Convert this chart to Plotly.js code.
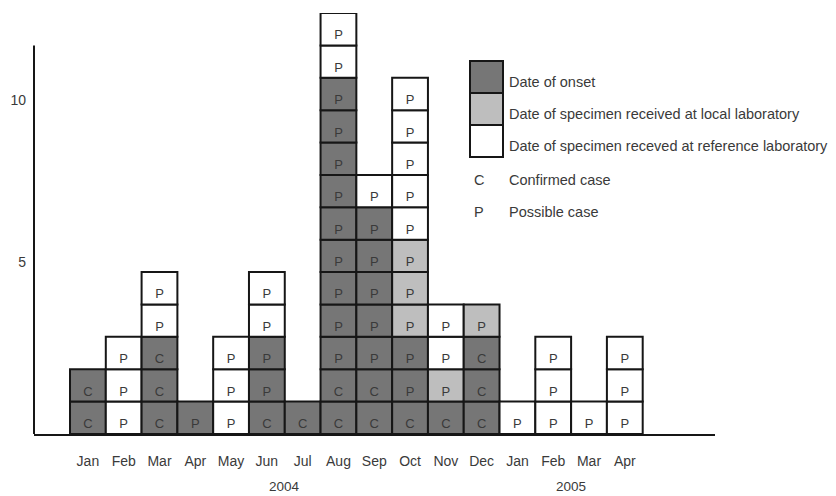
<!DOCTYPE html>
<html>
<head>
<meta charset="utf-8">
<script src="https://cdn.plot.ly/plotly-3.0.1.min.js"></script>
<style>html,body{margin:0;padding:0;background:#fff;}#chart{width:836px;height:496px;}</style>
</head>
<body>
<div id="chart"></div>
<script>
// ---- data ----
const months = ['Jan','Feb','Mar','Apr','May','Jun','Jul','Aug','Sep','Oct','Nov','Dec','Jan','Feb','Mar','Apr'];
const years = ['2004','2005'];
const yearMonthCounts = [12, 4];
// case classification of each stacked cell, bottom to top (C = confirmed, P = possible)
const caseCodes = ['CC','PPP','CCCPP','P','PPP','CPPPP','C','CCPPPPPPPPPPP','CCPPPPPP','CPPPPPPPPPP','CPPP','CCCP','P','PPP','P','PPP'];
// date basis of each cell, bottom to top (O = onset, L = local lab, R = reference lab)
const stageCodes = ['OO','RRR','OOORR','O','RRR','OOORR','O','OOOOOOOOOOORR','OOOOOOOR','OOOLLLRRRRR','OLRR','OOOL','R','RRR','R','RRR'];
const stageKeys = ['O','L','R'];
const stageNames = ['Date of onset','Date of specimen received at local laboratory','Date of specimen receved at reference laboratory'];
const caseKeys = ['C','P'];
const caseNames = ['Confirmed case','Possible case'];
const yTicks = [5, 10];

// ---- styles ----
const stageColors = {O:'#767676', L:'#bebebe', R:'#ffffff'};
const edge = '#161616';
const txt = '#3a3a3a';
const FONT = 'Liberation Sans, Arial, sans-serif';

// plot area in pixels
const L = 34, R = 715, T = 13, B = 434;
const px2x = p => (p - L) / (R - L);
const px2y = p => (B - p) / (B - T);

const xs = [], bases = [], ys = [], texts = [], colors = [];
months.forEach((m, i) => {
  for (let k = 0; k < caseCodes[i].length; k++) {
    xs.push(i); bases.push(k); ys.push(1);
    texts.push(caseCodes[i][k]);
    colors.push(stageColors[stageCodes[i][k]]);
  }
});

const trace = {
  type: 'bar', x: xs, y: ys, base: bases, width: 1,
  marker: {color: colors, line: {color: edge, width: 2}},
  text: texts, textposition: 'inside', insidetextanchor: 'start',
  textangle: 0, constraintext: 'none',
  textfont: {family: FONT, size: 13, color: txt},
  hoverinfo: 'skip', showlegend: false
};

const shapes = [];
// y axis line (only up to 12)
shapes.push({type:'line', xref:'paper', yref:'y', x0:0, x1:0, y0:0, y1:12, line:{color:edge, width:2}});
// legend boxes
const boxTop = 61, boxH = 32;
stageKeys.forEach((k, j) => {
  shapes.push({type:'rect', xref:'paper', yref:'paper',
    x0: px2x(470), x1: px2x(503), y0: px2y(boxTop + boxH*(j+1)), y1: px2y(boxTop + boxH*j),
    fillcolor: stageColors[k], line:{color:edge, width:2}});
});

const LEGF = {family:FONT, size:14.5, color:txt};
const annotations = [];
stageNames.forEach((n, j) => {
  annotations.push({xref:'paper', yref:'paper', x: px2x(507), y: px2y(boxTop + boxH*j + 21),
    xanchor:'left', yanchor:'middle', text:n, showarrow:false, font:LEGF});
});
caseNames.forEach((n, j) => {
  const py = 180 + 32*j;
  annotations.push({xref:'paper', yref:'paper', x: px2x(479), y: px2y(py),
    xanchor:'center', yanchor:'middle', text:caseKeys[j], showarrow:false, font:LEGF});
  annotations.push({xref:'paper', yref:'paper', x: px2x(507), y: px2y(py),
    xanchor:'left', yanchor:'middle', text:n, showarrow:false, font:LEGF});
});
// year labels centred under their months
let start = 0;
years.forEach((yv, j) => {
  const c = start + (yearMonthCounts[j] - 1) / 2;
  annotations.push({xref:'x', yref:'paper', x: c, y: px2y(486), xanchor:'center', yanchor:'middle',
    text: yv, showarrow:false, font:{family:FONT, size:13.5, color:txt}});
  start += yearMonthCounts[j];
});

const layout = {
  width: 836, height: 496,
  margin: {l: L, r: 836 - R, t: T, b: 496 - B, pad: 0},
  paper_bgcolor: '#fff', plot_bgcolor: '#fff',
  barmode: 'overlay', bargap: 0, showlegend: false,
  font: {family: FONT, size: 14, color: txt},
  xaxis: {range: [-1.506, 17.52], tickvals: months.map((m, i) => i), ticktext: months,
    showgrid: false, zeroline: false, showline: true, linecolor: edge, linewidth: 2,
    ticks: '', ticklabelstandoff: 13, tickfont: {family: FONT, size: 14, color: txt}, fixedrange: true},
  yaxis: {range: [0, 13], tickvals: yTicks, ticktext: yTicks.map(String),
    showgrid: false, zeroline: false, showline: false, ticks: '',
    ticklabelshift: -10, ticklabelstandoff: 7, tickfont: {family: FONT, size: 14, color: txt}, fixedrange: true},
  shapes: shapes, annotations: annotations
};

Plotly.newPlot('chart', [trace], layout, {displayModeBar: false, staticPlot: true});
</script>
</body>
</html>
